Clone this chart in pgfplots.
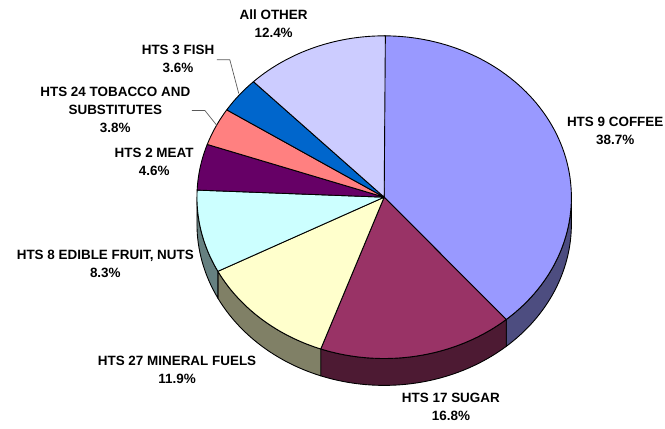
\documentclass[border=0pt]{standalone}
\usepackage{pgfplots}
\pgfplotsset{compat=1.18}
\usepackage{fontspec}
\setmainfont{Liberation Sans}
\definecolor{coffee}{HTML}{9999FF}
\definecolor{coffeeS}{HTML}{4D4D80}
\definecolor{sugar}{HTML}{993366}
\definecolor{sugarS}{HTML}{4D1A33}
\definecolor{mineral}{HTML}{FFFFCC}
\definecolor{mineralS}{HTML}{808066}
\definecolor{fruit}{HTML}{CCFFFF}
\definecolor{fruitS}{HTML}{668080}
\definecolor{meat}{HTML}{660066}
\definecolor{tobacco}{HTML}{FF8080}
\definecolor{fish}{HTML}{0066CC}
\definecolor{other}{HTML}{CCCCFF}
\begin{document}
% shares in percent, clockwise from 12 o'clock
\pgfmathsetmacro\aS{90}
\pgfmathsetmacro\aA{\aS-3.6*38.7}% coffee
\pgfmathsetmacro\aB{\aA-3.6*16.8}% sugar
\pgfmathsetmacro\aC{\aB-3.6*11.9}% mineral fuels
\pgfmathsetmacro\aD{\aC-3.6*8.3}% edible fruit
\pgfmathsetmacro\aE{\aD-3.6*4.6}% meat
\pgfmathsetmacro\aF{\aE-3.6*3.8}% tobacco
\pgfmathsetmacro\aG{\aF-3.6*3.6}% fish
\pgfmathsetmacro\aH{\aG-3.6*12.4}% all other
\begin{tikzpicture}
\begin{axis}[width=665pt,height=430pt,scale only axis,
  xmin=0,xmax=665,ymin=0,ymax=430,axis lines=none,clip=false,
  every axis plot/.append style={line width=0.9pt,line join=round}]
% visible sides
\addplot[fill=coffeeS,draw=black,domain=\aA:0,samples=40]
  ({383+188*cos(x)},{232+162*sin(x)}) -- ++(0pt,-27pt)
  arc[start angle=0,end angle=\aA,x radius=188pt,y radius=162pt] -- cycle;
\addplot[fill=sugarS,draw=black,domain=\aB:\aA,samples=40]
  ({383+188*cos(x)},{232+162*sin(x)}) -- ++(0pt,-27pt)
  arc[start angle=\aA,end angle=\aB,x radius=188pt,y radius=162pt] -- cycle;
\addplot[fill=mineralS,draw=black,domain=\aC:\aB,samples=40]
  ({383+188*cos(x)},{232+162*sin(x)}) -- ++(0pt,-27pt)
  arc[start angle=\aB,end angle=\aC,x radius=188pt,y radius=162pt] -- cycle;
\addplot[fill=fruitS,draw=black,domain=-180:\aC,samples=40]
  ({383+188*cos(x)},{232+162*sin(x)}) -- ++(0pt,-27pt)
  arc[start angle=\aC,end angle=-180,x radius=188pt,y radius=162pt] -- cycle;
% top faces
\addplot[fill=coffee,draw=black,domain=\aA:\aS,samples=80]
  ({383+188*cos(x)},{232+162*sin(x)}) -- (383,232) -- cycle;
\addplot[fill=sugar,draw=black,domain=\aB:\aA,samples=40]
  ({383+188*cos(x)},{232+162*sin(x)}) -- (383,232) -- cycle;
\addplot[fill=mineral,draw=black,domain=\aC:\aB,samples=40]
  ({383+188*cos(x)},{232+162*sin(x)}) -- (383,232) -- cycle;
\addplot[fill=fruit,draw=black,domain=\aD:\aC,samples=40]
  ({383+188*cos(x)},{232+162*sin(x)}) -- (383,232) -- cycle;
\addplot[fill=meat,draw=black,domain=\aE:\aD,samples=30]
  ({383+188*cos(x)},{232+162*sin(x)}) -- (383,232) -- cycle;
\addplot[fill=tobacco,draw=black,domain=\aF:\aE,samples=30]
  ({383+188*cos(x)},{232+162*sin(x)}) -- (383,232) -- cycle;
\addplot[fill=fish,draw=black,domain=\aG:\aF,samples=30]
  ({383+188*cos(x)},{232+162*sin(x)}) -- (383,232) -- cycle;
\addplot[fill=other,draw=black,domain=\aH:\aG,samples=40]
  ({383+188*cos(x)},{232+162*sin(x)}) -- (383,232) -- cycle;
% leader lines
\addplot[draw=black!65,line width=0.7pt] coordinates {(215,370) (228,370) (237,336)};
\addplot[draw=black!65,line width=0.7pt] coordinates {(190,319) (203,319) (215,304)};
% labels
\begin{scope}[every node/.style={align=center,inner sep=0pt,font=\fontsize{13.5}{18}\selectfont\bfseries}]
\node at (615,299) {HTS 9 COFFEE\\38.7\%};
\node at (450,21) {HTS 17 SUGAR\\16.8\%};
\node at (175,58.5) {HTS 27 MINERAL FUELS\\11.9\%};
\node at (103,165) {HTS 8 EDIBLE FRUIT, NUTS\\8.3\%};
\node at (152,267.5) {HTS 2 MEAT\\4.6\%};
\node at (113,319.5) {HTS 24 TOBACCO AND\\SUBSTITUTES\\3.8\%};
\node at (176,370.5) {HTS 3 FISH\\3.6\%};
\node at (272,406) {All OTHER\\12.4\%};
\end{scope}
\end{axis}
\pgfresetboundingbox
\path (current axis.south west) rectangle (current axis.north east);
\end{tikzpicture}
\end{document}
